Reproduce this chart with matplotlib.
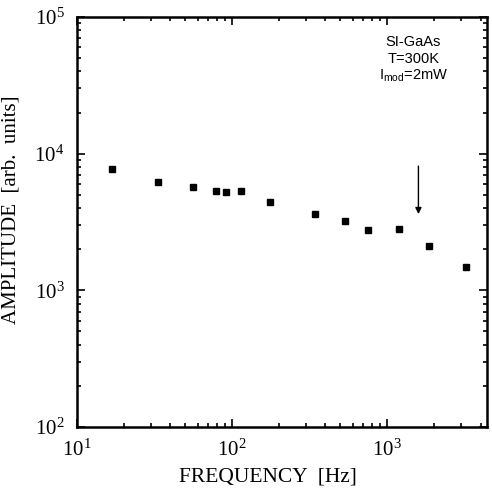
import matplotlib.pyplot as plt
import numpy as np
from matplotlib.ticker import FuncFormatter, LogLocator

plt.rcParams['font.family'] = 'Liberation Serif'
plt.rcParams['mathtext.fontset'] = 'custom'
plt.rcParams['mathtext.rm'] = 'Liberation Serif'

# frequency [Hz] and amplitude [arb. units]
freq = [16.9, 33.5, 56.2, 79.2, 91.0, 114.3, 176.6, 342, 536, 751, 1183, 1866, 3200]
amp = [7730, 6210, 5670, 5310, 5250, 5340, 4410, 3640, 3200, 2770, 2810, 2110, 1480]

arrow_freq = 1590
arrow_from = 8500
arrow_to = 3450

fig = plt.figure(figsize=(4.92, 4.94), dpi=100)
ax = fig.add_axes([0.1565, 0.1356, 0.8333, 0.83])

ax.plot(freq, amp, 's', color='black', markersize=3.8)

ax.set_xscale('log')
ax.set_yscale('log')
ax.set_xlim(10, 4400)
ax.set_ylim(100, 100000)

fmt = FuncFormatter(lambda v, p: r'$\mathregular{10^{%d}}$' % round(np.log10(v)))
ax.xaxis.set_major_formatter(fmt)
ax.yaxis.set_major_formatter(fmt)
ax.xaxis.set_minor_locator(LogLocator(subs=np.arange(2, 10)))
ax.yaxis.set_minor_locator(LogLocator(subs=np.arange(2, 10)))

ax.tick_params(which='both', direction='in', top=True, right=True, width=1.2)
ax.tick_params(which='major', length=6, labelsize=15, pad=9)
ax.tick_params(which='minor', length=3)
for sp in ax.spines.values():
    sp.set_linewidth(1.8)

ax.set_xlabel('FREQUENCY  [Hz]', fontsize=15.5)
ax.set_ylabel('AMPLITUDE  [arb.  units]', fontsize=15)
ax.xaxis.set_label_coords(0.466, -0.098)
ax.yaxis.set_label_coords(-0.138, 0.53)

# arrow marking the frequency of interest
ax.annotate('', xy=(arrow_freq, arrow_to), xytext=(arrow_freq, arrow_from),
            arrowprops=dict(arrowstyle='-|>', color='black', lw=1.0,
                            mutation_scale=9))

ax.text(0.82, 0.955, 'SI-GaAs\nT=300K\n$\\mathregular{I_{mod}}$=2mW',
        transform=ax.transAxes, ha='center', va='top',
        fontsize=10.5, family='Liberation Sans', linespacing=1.2)

fig.savefig('out.png', dpi=100)
